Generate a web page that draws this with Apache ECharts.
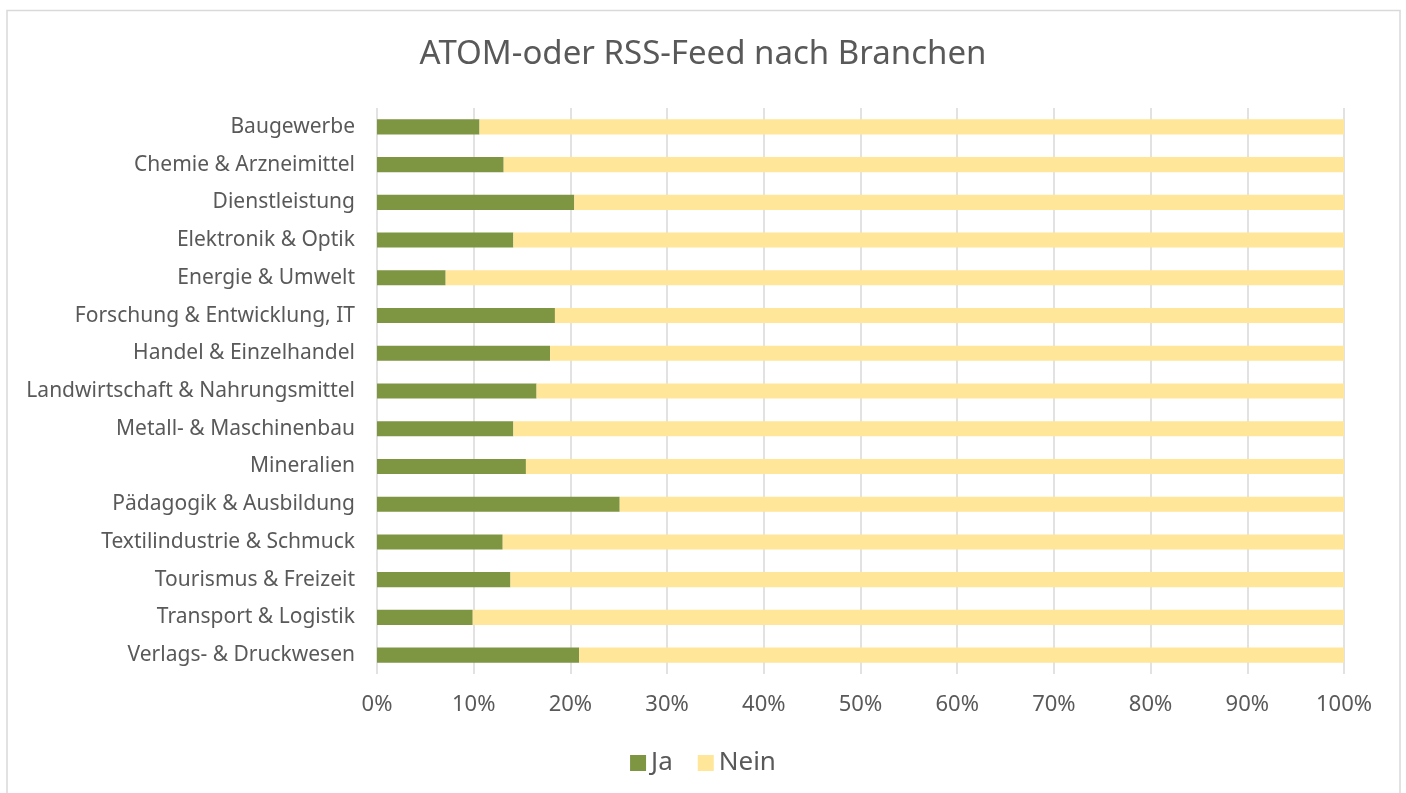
<!DOCTYPE html>
<html>
<head>
<meta charset="utf-8">
<script src="https://cdn.jsdelivr.net/npm/echarts@6/dist/echarts.min.js"></script>
<style>
  html, body { margin: 0; padding: 0; background: #fff; }
  #main { width: 1406px; height: 793px; }
</style>
</head>
<body>
<div id="main"></div>
<script>
var branchen = ['Baugewerbe', 'Chemie & Arzneimittel', 'Dienstleistung', 'Elektronik & Optik',
    'Energie & Umwelt', 'Forschung & Entwicklung, IT', 'Handel & Einzelhandel',
    'Landwirtschaft & Nahrungsmittel', 'Metall- & Maschinenbau', 'Mineralien',
    'Pädagogik & Ausbildung', 'Textilindustrie & Schmuck', 'Tourismus & Freizeit',
    'Transport & Logistik', 'Verlags- & Druckwesen'];
var ja = [10.6, 13.1, 20.4, 14.1, 7.1, 18.4, 17.9, 16.5, 14.1, 15.4, 25.1, 13.0, 13.8, 9.9, 20.9];
var nein = [89.4, 86.9, 79.6, 85.9, 92.9, 81.6, 82.1, 83.5, 85.9, 84.6, 74.9, 87.0, 86.2, 90.1, 79.1];

var font = 'Noto Sans';
var textColor = '#595959';

var chartDom = document.getElementById('main');
var myChart = echarts.init(chartDom);
var option = {
    textStyle: { fontFamily: font },
    title: {
        text: 'ATOM-oder RSS-Feed nach Branchen',
        left: 'center',
        top: 33,
        textStyle: { fontFamily: font, fontSize: 33, fontWeight: 'normal', color: textColor }
    },
    graphic: [{
        type: 'rect',
        shape: { x: 7, y: 10.5, width: 1393, height: 800 },
        style: { fill: 'none', stroke: '#d9d9d9', lineWidth: 1.5 },
        silent: true
    }],
    legend: {
        data: ['Ja', 'Nein'],
        bottom: 12,
        left: 'center',
        itemWidth: 16,
        itemHeight: 16,
        itemGap: 25,
        icon: 'rect',
        textStyle: { fontFamily: font, fontSize: 26, color: textColor }
    },
    grid: { left: 377, right: 62, top: 108, bottom: 119 },
    xAxis: {
        type: 'value',
        min: 0,
        max: 100,
        interval: 10,
        axisLine: { show: false },
        axisTick: { show: false },
        splitLine: { lineStyle: { color: '#d9d9d9', width: 1.5 } },
        axisLabel: { formatter: '{value}%', fontSize: 22, color: textColor, margin: 20, fontFamily: font }
    },
    yAxis: {
        type: 'category',
        data: branchen,
        inverse: true,
        axisLine: { show: false },
        axisTick: { show: false },
        axisLabel: { fontSize: 21, color: textColor, margin: 22, fontFamily: font }
    },
    series: [
        {
            name: 'Ja',
            type: 'bar',
            stack: 'total',
            data: ja,
            barCategoryGap: '60%',
            itemStyle: { color: '#7E9542' }
        },
        {
            name: 'Nein',
            type: 'bar',
            stack: 'total',
            data: nein,
            barCategoryGap: '60%',
            itemStyle: { color: '#FFE699' }
        }
    ]
};

option && myChart.setOption(option);
</script>
</body>
</html>
